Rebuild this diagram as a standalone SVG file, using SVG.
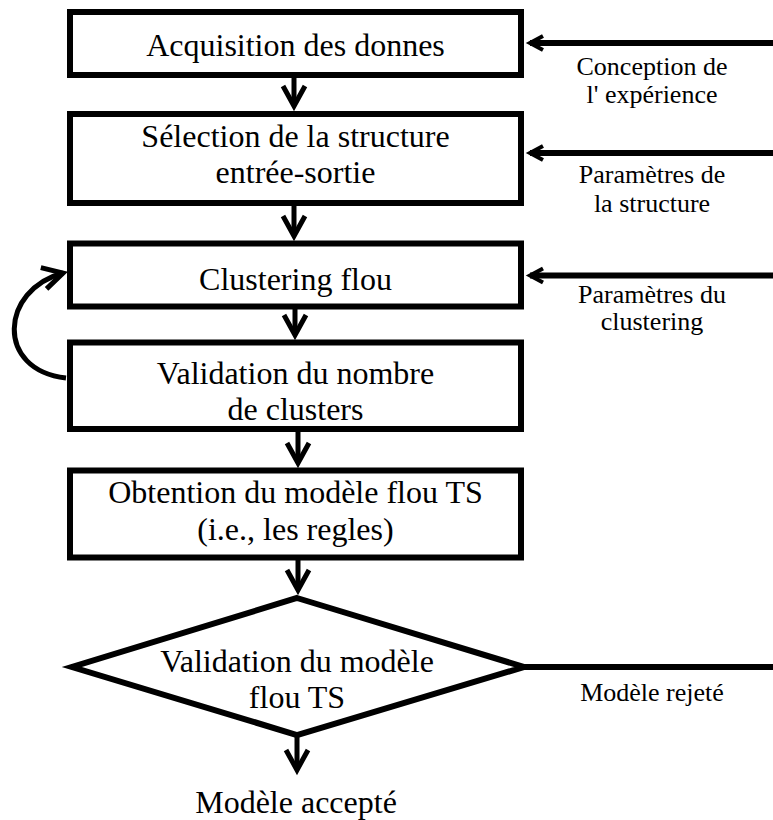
<svg xmlns="http://www.w3.org/2000/svg" width="773" height="820" viewBox="0 0 773 820">
<style>
.box{fill:#fff;stroke:#000;stroke-width:6}
.t{font-family:"Liberation Serif","Times New Roman",serif;font-size:32px;fill:#000;text-anchor:middle}
.lb{font-family:"Liberation Serif","Times New Roman",serif;font-size:26px;fill:#000;text-anchor:middle}
.c{fill:none;stroke:#000;stroke-width:5}
.cs{fill:none;stroke:#000;stroke-width:6}
</style>
<defs>
<marker id="ahBig" viewBox="-26 -14 30 28" refX="0" refY="0" markerWidth="30" markerHeight="28" markerUnits="userSpaceOnUse" orient="auto" overflow="visible">
<path d="M-20,-11 L0,0 L-20,11" fill="none" stroke="#000" stroke-width="5" stroke-linejoin="miter"/>
</marker>
<marker id="ahSmall" viewBox="-18 -10 22 20" refX="0" refY="0" markerWidth="22" markerHeight="20" markerUnits="userSpaceOnUse" orient="auto" overflow="visible">
<path d="M-13,-7 L0,0 L-13,7" fill="none" stroke="#000" stroke-width="4" stroke-linejoin="miter"/>
</marker>
</defs>
<g id="connectors">
<line class="c" x1="294" y1="78" x2="294" y2="106" marker-end="url(#ahBig)"/>
<line class="c" x1="294" y1="205" x2="294" y2="236" marker-end="url(#ahBig)"/>
<line class="c" x1="295" y1="309" x2="295" y2="335" marker-end="url(#ahBig)"/>
<line class="c" x1="298" y1="432" x2="298" y2="463" marker-end="url(#ahBig)"/>
<line class="c" x1="298" y1="560" x2="298" y2="590" marker-end="url(#ahBig)"/>
<line class="c" x1="297" y1="737" x2="297" y2="770" marker-end="url(#ahBig)"/>
<path class="c" d="M66,378 C-5,370 0,290 63,273" marker-end="url(#ahBig)"/>
<line class="cs" x1="773" y1="43" x2="530" y2="43" marker-end="url(#ahSmall)"/>
<line class="cs" x1="773" y1="153" x2="530" y2="153" marker-end="url(#ahSmall)"/>
<line class="cs" x1="773" y1="275.5" x2="530" y2="275.5" marker-end="url(#ahSmall)"/>
<line class="cs" x1="524" y1="667" x2="773" y2="667"/>
</g>
<g id="n1">
<rect class="box" x="70" y="12" width="451" height="63"/>
<text class="t" x="295.5" y="56">Acquisition des donnes</text>
</g>
<g id="n2">
<rect class="box" x="70" y="114" width="451" height="89"/>
<text class="t" x="295.5" y="147">Sélection de la structure</text>
<text class="t" x="295.5" y="183">entrée-sortie</text>
</g>
<g id="n3">
<rect class="box" x="70" y="243.5" width="451" height="63"/>
<text class="t" x="295.5" y="290">Clustering flou</text>
</g>
<g id="n4">
<rect class="box" x="70" y="342.5" width="451" height="86.5"/>
<text class="t" x="295.5" y="384">Validation du nombre</text>
<text class="t" x="295.5" y="420">de clusters</text>
</g>
<g id="n5">
<rect class="box" x="70" y="470.5" width="451" height="87"/>
<text class="t" x="295.5" y="503">Obtention du modèle flou TS</text>
<text class="t" x="295.5" y="540">(i.e., les regles)</text>
</g>
<g id="n6">
<polygon class="box" points="297,598 524,667 297,735 72,667"/>
<text class="t" x="297" y="672">Validation du modèle</text>
<text class="t" x="297" y="708">flou TS</text>
</g>
<g id="lbl1">
<text class="lb" x="652" y="75">Conception de</text>
<text class="lb" x="652" y="103">l' expérience</text>
</g>
<g id="lbl2">
<text class="lb" x="652" y="183">Paramètres de</text>
<text class="lb" x="652" y="212">la structure</text>
</g>
<g id="lbl3">
<text class="lb" x="652" y="303">Paramètres du</text>
<text class="lb" x="652" y="330">clustering</text>
</g>
<g id="lbl4">
<text class="lb" x="652" y="701">Modèle rejeté</text>
</g>
<g id="out">
<text class="t" x="296" y="813">Modèle accepté</text>
</g>
</svg>
